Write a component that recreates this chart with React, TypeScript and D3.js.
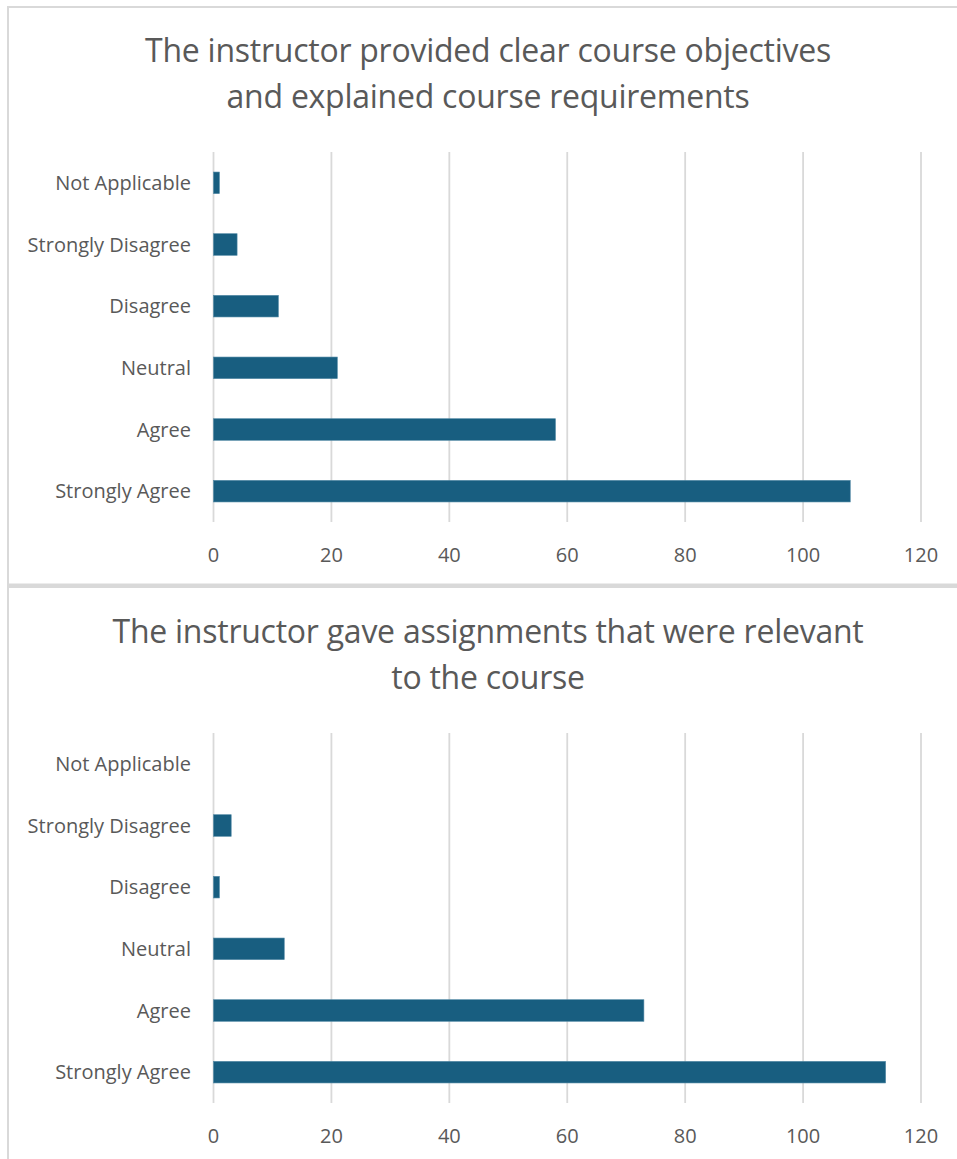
import React from "react";
import * as d3 from "d3";

const categories = [
  "Not Applicable",
  "Strongly Disagree",
  "Disagree",
  "Neutral",
  "Agree",
  "Strongly Agree",
];

const chart1Title = [
  "The instructor provided clear course objectives",
  "and explained course requirements",
];
const chart1Values = [1, 4, 11, 21, 58, 108];

const chart2Title = [
  "The instructor gave assignments that were relevant",
  "to the course",
];
const chart2Values = [0, 3, 1, 12, 73, 114];

const xTicks = [0, 20, 40, 60, 80, 100, 120];

const W = 957;
const H = 1159;
const FONT = "'Open Sans', 'Noto Sans', sans-serif";
const TEXT = "#595959";
const GRID = "#d9d9d9";
const BAR = "#185e80";

type PanelProps = { title: string[]; values: number[]; top: number };

function Panel({ title, values, top }: PanelProps) {
  const x = d3.scaleLinear().domain([0, 120]).range([213.5, 921]);
  const y = d3
    .scaleBand<string>()
    .domain(categories)
    .range([top + 146, top + 516])
    .paddingInner(0.65)
    .paddingOuter(0.325);
  const plotTop = top + 146;
  const plotBottom = top + 516;
  return (
    <g>
      {title.map((t, i) => (
        <text
          key={i}
          x={488}
          y={top + 56 + i * 46}
          textAnchor="middle"
          fontFamily={FONT}
          fontSize={32}
          letterSpacing={-0.25}
          fill={TEXT}
        >
          {t}
        </text>
      ))}
      {xTicks.map((t) => (
        <line
          key={"g" + t}
          x1={x(t)}
          x2={x(t)}
          y1={plotTop}
          y2={plotBottom}
          stroke={GRID}
          strokeWidth={1.8}
        />
      ))}
      {categories.map((c, i) => (
        <rect
          key={"b" + c}
          x={x(0)}
          y={y(c)!}
          width={Math.max(0, x(values[i]) - x(0))}
          height={y.bandwidth()}
          fill={BAR}
          stroke={values[i] > 0 ? "#4f87a3" : "none"}
          strokeWidth={0.6}
        />
      ))}
      {categories.map((c) => (
        <text
          key={"l" + c}
          x={191}
          y={y(c)! + y.bandwidth() / 2}
          dy="0.36em"
          textAnchor="end"
          fontFamily={FONT}
          fontSize={20}
          fill={TEXT}
        >
          {c}
        </text>
      ))}
      {xTicks.map((t) => (
        <text
          key={"t" + t}
          x={x(t)}
          y={top + 549}
          dy="0.36em"
          textAnchor="middle"
          fontFamily={FONT}
          fontSize={20}
          fill={TEXT}
        >
          {t}
        </text>
      ))}
    </g>
  );
}

export default function App() {
  return (
    <div style={{ position: "absolute", left: 0, top: 0, width: W, height: H, background: "#fff" }}>
      <svg width={W} height={H} style={{ display: "block" }}>
        <rect x={0} y={0} width={W} height={H} fill="#ffffff" />
        <rect x={7} y={6} width={W - 7} height={2} fill={GRID} />
        <rect x={7} y={6} width={2} height={578} fill={GRID} />
        <rect x={7} y={583.5} width={W - 7} height={4.5} fill={GRID} />
        <rect x={7} y={588} width={2} height={H - 588} fill={GRID} />
        <Panel title={chart1Title} values={chart1Values} top={6} />
        <Panel title={chart2Title} values={chart2Values} top={587} />
      </svg>
    </div>
  );
}
